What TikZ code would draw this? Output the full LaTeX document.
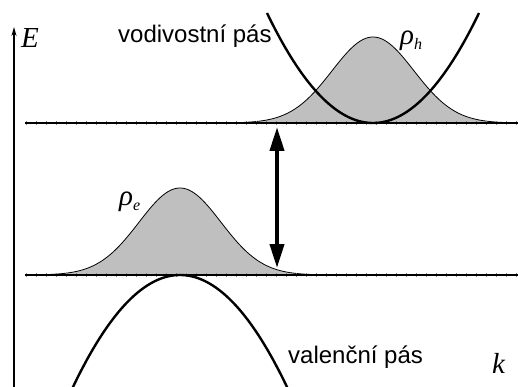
\documentclass[tikz,border=0pt]{standalone}
\usepackage{amsmath}
\usepackage{fontspec}
\setsansfont{Liberation Sans}
\newfontfamily\symbfont{Liberation Serif}
\usepackage{tikz}
\usetikzlibrary{arrows.meta}

\newcommand{\sublabel}[2]{#1\raisebox{-5pt}{\fontsize{16}{18}\selectfont #2}}

\begin{document}
\begin{tikzpicture}[
    x=1pt, y=-1pt,
    band/.style={line width=2.4pt},
    density/.style={draw=black, line width=0.8pt, fill=black!25},
    level/.style={line width=1.1pt},
    ticks/.style={draw=black!50, line width=4pt, dash pattern=on 1.3pt off 8.7pt, dash phase=9pt},
    gaparrow/.style={line width=4pt, {Triangle[length=24pt,width=14pt]}-{Triangle[length=24pt,width=14pt]}},
    axis/.style={line width=1.2pt, -{Stealth[length=9pt,width=5pt]}},
    bandlabel/.style={font=\sffamily\fontsize{24}{28}\selectfont, inner sep=0pt, anchor=base west},
    mathlabel/.style={font=\symbfont\itshape\fontsize{29}{33}\selectfont, inner sep=0pt, anchor=base west},
]

\useasboundingbox (0,0) rectangle (518,387);
\clip (0,0) rectangle (518,387);

% densities
\filldraw[density] plot[domain=200:518, samples=120] (\x, {123 - 86*exp(-0.5*((\x-373)/41)^2)}) -- cycle;
\filldraw[density] plot[domain=25:340, samples=120] (\x, {275 - 87*exp(-0.5*((\x-180)/41)^2)}) -- cycle;

% band edges
\coordinate (cbleft)  at (25,123);
\coordinate (cbright) at (518,123);
\coordinate (vbleft)  at (25,275);
\coordinate (vbright) at (518,275);
\draw[ticks] (cbleft) -- (cbright);
\draw[ticks] (vbleft) -- (vbright);
\draw[level] (cbleft) -- (cbright);
\draw[level] (vbleft) -- (vbright);

% parabolas
\draw[band] plot[domain=267:479, samples=100] (\x, {123 - 110*((\x-373)/106)^2});
\draw[band] plot[domain=60:300, samples=100] (\x, {275 + 112*((\x-180)/107)^2});

% gap and energy axis
\coordinate (gaptop) at (277,127);
\coordinate (gapbot) at (277,268);
\draw[gaparrow] (gaptop) -- (gapbot);
\coordinate (eorigin) at (14,387);
\coordinate (etip)    at (14,27);
\draw[axis] (eorigin) -- (etip);

% labels
\node[mathlabel] (elabel)  at (21,48)  {E};
\node[mathlabel] (klabel)  at (492,373) {k};
\node[mathlabel] (rhoh)    at (400,45) {\sublabel{ρ}{h}};
\node[mathlabel] (rhoe)    at (119,205) {\sublabel{ρ}{e}};
\node[bandlabel] (cblabel) at (118,43) {vodivostní pás};
\node[bandlabel] (vblabel) at (288,363) {valenční pás};

\end{tikzpicture}
\end{document}
